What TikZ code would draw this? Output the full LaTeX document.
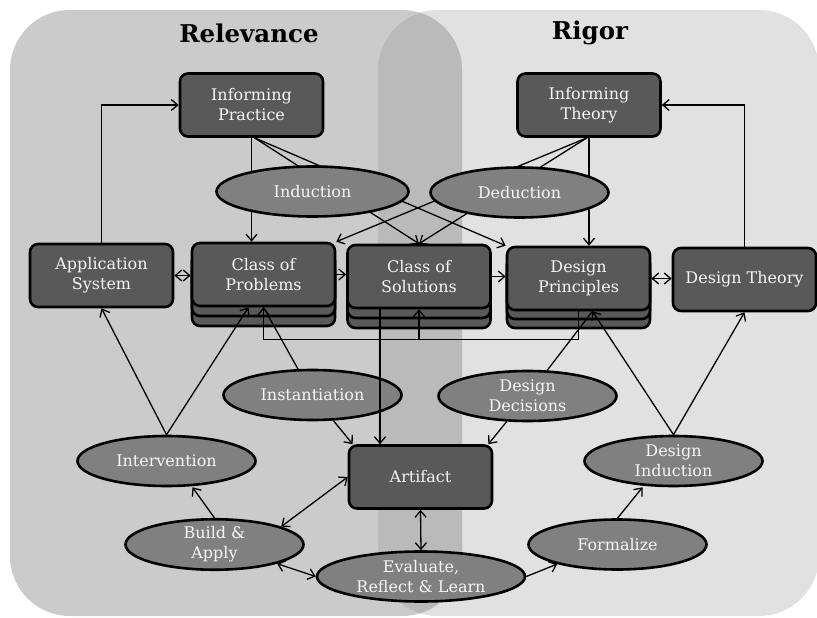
\documentclass[tikz,border=0pt]{standalone}
\usepackage{fontspec}
\setmainfont{DejaVu Serif}
\usetikzlibrary{shapes.geometric,arrows.meta,calc}
\definecolor{panelL}{HTML}{CBCBCB}
\definecolor{panelR}{HTML}{E1E1E1}
\definecolor{panelO}{HTML}{BABABA}
\definecolor{boxfill}{HTML}{595959}
\definecolor{ellfill}{HTML}{808080}
\definecolor{txt}{HTML}{F6F6F6}
\begin{document}
\begin{tikzpicture}[x=1pt,y=-1pt,
  nodefont/.style={font=\fontsize{16}{20}\selectfont},
  boxnode/.style={draw=black, line width=2.6pt, fill=boxfill, rounded corners=8pt, minimum width=143pt, minimum height=63pt, align=center, text=txt, inner sep=0pt, nodefont},
  stacklayer/.style={draw=black, line width=2.6pt, fill=boxfill, rounded corners=8pt, minimum width=143pt, minimum height=63pt, inner sep=0pt},
  ellnode/.style={ellipse, draw=black, line width=2.6pt, fill=ellfill, minimum height=50pt, align=center, text=txt, inner sep=0pt, nodefont},
  headtxt/.style={font=\fontsize{24.5}{28}\selectfont\bfseries, text=black},
  conn/.style={line width=1.3pt, draw=black},
  onearr/.style={conn, -{Straight Barb[length=6.5pt,width=11pt]}},
  twoarr/.style={conn, {Straight Barb[length=6.5pt,width=11pt]}-{Straight Barb[length=6.5pt,width=11pt]}},
]
\useasboundingbox (0,0) rectangle (817,618);
% panels
\fill[panelR, rounded corners=60pt] (378,10) rectangle (819,616);
\fill[panelL, rounded corners=60pt] (10,10) rectangle (462,616);
\begin{scope}
  \clip[rounded corners=60pt] (10,10) rectangle (462,616);
  \fill[panelO, rounded corners=60pt] (378,10) rectangle (819,616);
\end{scope}
% titles
\node[headtxt] (trel) at (249,33) {Relevance};
\node[headtxt] (trig) at (590,33) {Rigor};
% boxes
\node[boxnode] (ip) at (251.5,105) {Informing\\Practice};
\node[boxnode] (it) at (589,105) {Informing\\Theory};
\node[boxnode] (app) at (101.5,275.5) {Application\\System};
\node[stacklayer] (cop3) at (263.5,294.5) {};
\node[stacklayer] (cop2) at (263.5,284.5) {};
\node[boxnode] (cop) at (263.5,274.5) {Class of\\Problems};
\node[stacklayer] (cos3) at (419,296.5) {};
\node[stacklayer] (cos2) at (419,286.5) {};
\node[boxnode] (cos) at (419,276.5) {Class of\\Solutions};
\node[stacklayer] (dp3) at (578.5,296.5) {};
\node[stacklayer] (dp2) at (578.5,287.5) {};
\node[boxnode] (dp) at (578.5,278.5) {Design\\Principles};
\node[boxnode] (dt) at (744.5,279.5) {Design Theory};
\node[boxnode] (art) at (420.5,477) {Artifact};
% lines passing behind Induction / Deduction
\coordinate (ipo) at ($(ip.south)+(3,0)$);
\coordinate (ito) at ($(it.south)+(-2,0)$);
\draw[onearr] (ip.south) -- (ip.south |- cop.north);
\draw[onearr] (ipo) -- (cos.north);
\draw[onearr] (ipo) -- (dp.north west);
\draw[onearr] (ito) -- (cop.north east);
\draw[onearr] (ito) -- (cos.north);
\draw[onearr] (it.south) -- (it.south |- dp.north);
% ellipses
\node[ellnode, minimum width=192pt] (ind) at (312.5,191.5) {Induction};
\node[ellnode, minimum width=178pt] (ded) at (519.5,192.5) {Deduction};
\node[ellnode, minimum width=178pt] (inst) at (312.5,395) {Instantiation};
\node[ellnode, minimum width=178pt] (dd) at (527.5,396) {Design\\Decisions};
\node[ellnode, minimum width=178pt] (inter) at (166.5,461) {Intervention};
\node[ellnode, minimum width=178pt] (di) at (673.5,461) {Design\\Induction};
\node[ellnode, minimum width=178pt] (ba) at (214.5,544.5) {Build \&\\Apply};
\node[ellnode, minimum width=208pt] (ev) at (421,576.5) {Evaluate,\\Reflect \& Learn};
\node[ellnode, minimum width=178pt] (fo) at (617.5,544.5) {Formalize};
% other connectors
\draw[onearr] (app.north) |- (ip.west);
\draw[onearr] (dt.north) |- (it.east);
\draw[twoarr] (app.east) -- (app.east -| cop.west);
\draw[onearr] (cop.east) -- (cop.east -| cos.west);
\draw[onearr] (cos.east) -- (cos.east -| dp.west);
\draw[twoarr] (dp.east) -- (dp.east -| dt.west);
\coordinate (br) at ($(dp.south)+(0,28)$);
\draw[onearr] (dp.south) -- (br) -| (cop.south);
\draw[onearr] (cos.south |- br) -- (cos.south);
\coordinate (cso) at ($(cos.south)+(-39,0)$);
\draw[onearr] (cso) -- (cso |- art.north);
\draw[conn] (inst) -- (cop.south);
\draw[onearr] (inst) -- ($(art.north west)+(5,0)$);
\coordinate (dpin) at ($(dp.south)+(14,0)$);
\draw[conn] (dd) -- (dpin);
\draw[onearr] (dd) -- ($(art.north east)+(-5,0)$);
\draw[onearr] (di.north) -- (dpin);
\draw[onearr] (di.north) -- (dt.south);
\draw[onearr] (inter.north) -- (app.south);
\draw[onearr] (inter.north) -- ($(cop.south)+(-15,0)$);
\draw[onearr] (ba.north) -- ($(inter.south)+(26,0)$);
\draw[twoarr] (ba.15) -- (art.west);
\draw[twoarr] (ba.-17) -- (ev.west);
\draw[twoarr] (art.south) -- (ev.north);
\draw[onearr] (ev.east) -- (fo.198);
\draw[onearr] (fo.north) -- ($(di.south)+(-31,0)$);
\end{tikzpicture}
\end{document}
